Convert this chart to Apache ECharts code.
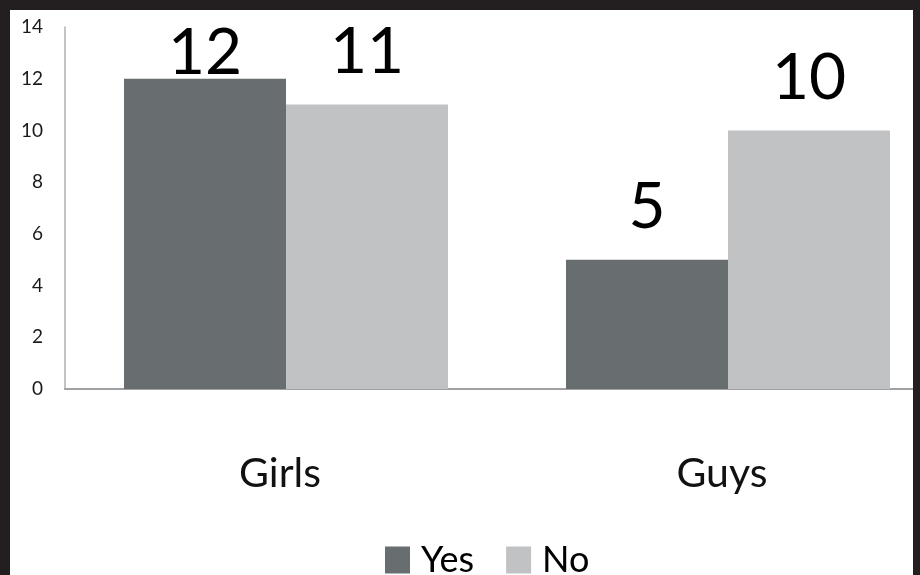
<!DOCTYPE html>
<html>
<head>
<meta charset="utf-8">
<script src="https://cdn.jsdelivr.net/npm/echarts@6/dist/echarts.min.js"></script>
<style>
  html, body { margin: 0; padding: 0; background: #231f20; width: 920px; height: 575px; overflow: hidden; }
  #wrap { position: absolute; left: 10px; top: 10px; width: 903px; height: 565px; background: #ffffff; overflow: hidden; }
  #chart { position: absolute; left: 0; top: 0; width: 939px; height: 565px; }
</style>
</head>
<body>
<div id="wrap"><div id="chart"></div></div>
<script>
const categories = ['Girls', 'Guys'];
const seriesNames = ['Yes', 'No'];
const yesValues = [12, 5];
const noValues = [11, 10];
const yTicks = [0, 2, 4, 6, 8, 10, 12, 14];

const FONT = 'Lato, "Open Sans", sans-serif';
const chart = echarts.init(document.getElementById('chart'), null, { renderer: 'canvas' });

function labelFor(distance) {
  return {
    show: true,
    position: 'top',
    distance: distance,
    color: '#000',
    fontFamily: FONT,
    fontSize: 64
  };
}
// the tallest label sits close to its bar (it is limited by the top of the chart)
function buildData(values) {
  return values.map(function (v) {
    return v >= 12 ? { value: v, label: labelFor(-7) } : { value: v };
  });
}

chart.setOption({
  animation: false,
  backgroundColor: '#ffffff',
  grid: { left: 55, right: 0, top: 17, bottom: 186, containLabel: false },
  legend: {
    data: seriesNames,
    left: 370,
    top: 527,
    icon: 'rect',
    itemWidth: 25,
    itemHeight: 27,
    itemGap: 32,
    textStyle: { fontFamily: FONT, fontSize: 36, color: '#000', padding: [0, 0, 0, 6] }
  },
  xAxis: {
    type: 'category',
    data: categories,
    axisLine: { show: true, lineStyle: { color: '#9ea2a4', width: 2 } },
    axisTick: { show: false },
    axisLabel: { fontFamily: FONT, fontSize: 41, color: '#111', margin: 64, padding: [0, 12, 0, 0] }
  },
  yAxis: {
    type: 'value',
    min: yTicks[0],
    max: yTicks[yTicks.length - 1],
    interval: 2,
    splitLine: { show: false },
    axisLine: { show: true, lineStyle: { color: '#b0b0b0', width: 1.5 } },
    axisTick: { show: false },
    axisLabel: { fontFamily: FONT, fontSize: 19, color: '#1a1a1a', margin: 22 }
  },
  series: [
    {
      name: seriesNames[0],
      type: 'bar',
      data: buildData(yesValues),
      barGap: '0%',
      barCategoryGap: '26.7%',
      itemStyle: { color: '#686d6f' },
      label: labelFor(20)
    },
    {
      name: seriesNames[1],
      type: 'bar',
      data: buildData(noValues),
      barGap: '0%',
      barCategoryGap: '26.7%',
      itemStyle: { color: '#c1c2c4' },
      label: labelFor(20)
    }
  ]
});
</script>
</body>
</html>
